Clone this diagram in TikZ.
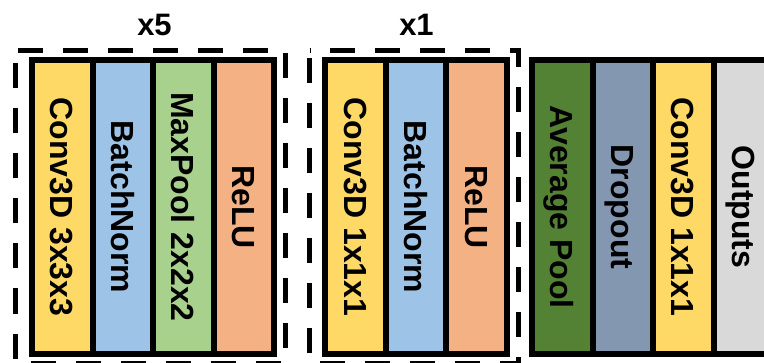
\documentclass[tikz,border=0pt]{standalone}
\usepackage{fontspec}
\setmainfont{Liberation Sans}

\definecolor{convyellow}{HTML}{FFD966}
\definecolor{normblue}{HTML}{9DC3E6}
\definecolor{poolgreen}{HTML}{A9D18E}
\definecolor{relured}{HTML}{F4B183}
\definecolor{avggreen}{HTML}{548235}
\definecolor{dropslate}{HTML}{8497B0}
\definecolor{outgray}{HTML}{D9D9D9}

\begin{document}
\begin{tikzpicture}[x=1pt, y=1pt,
                layer/.style = {draw=black, fill=#1, line width=6pt, rotate=-90,
                    minimum width=294pt, minimum height=60.5pt,
                    inner sep=0pt, outer sep=0pt,
                    text height=23pt, text depth=0pt,
                    font=\fontsize{32}{37}\selectfont\bfseries},
                next/.style = {anchor=south},
                repeatbox/.style = {draw=black, line width=5pt,
                    dash pattern=on 25pt off 20pt},
                repeatlabel/.style = {font=\fontsize{31}{36}\selectfont\bfseries}
            ]
            \useasboundingbox (0,0) rectangle (764,362);
            % block repeated five times
            \node[layer=convyellow] (conva) at (62.25,155) {Conv3D 3x3x3};
            \node[layer=normblue, next] (norma) at (conva.north) {BatchNorm};
            \node[layer=poolgreen, next] (poola) at (norma.north) {MaxPool 2x2x2};
            \node[layer=relured, next] (relua) at (poola.north) {ReLU};
            \draw[repeatbox, dash phase=42pt] (15,311.5) -- (285.5,311.5)
                -- (285.5,-1) -- (15,-1) -- cycle;
            \node[repeatlabel] (timesa) at (154.5,337) {x5};
            % block used once
            \node[layer=convyellow] (convb) at (355.5,155) {Conv3D 1x1x1};
            \node[layer=normblue, next] (normb) at (convb.north) {BatchNorm};
            \node[layer=relured, next] (relub) at (normb.north) {ReLU};
            \draw[repeatbox, dash phase=24.5pt] (309.5,311.5) -- (518.5,311.5)
                -- (518.5,-1) -- (309.5,-1) -- cycle;
            \node[repeatlabel] (timesb) at (416.5,337) {x1};
            % head
            \node[layer=avggreen] (avg) at (562.3,155) {Average Pool};
            \node[layer=dropslate, next] (drop) at (avg.north) {Dropout};
            \node[layer=convyellow, next] (convc) at (drop.north) {Conv3D 1x1x1};
            \node[layer=outgray, next] (out) at (convc.north) {Outputs};
        \end{tikzpicture}
\end{document}
